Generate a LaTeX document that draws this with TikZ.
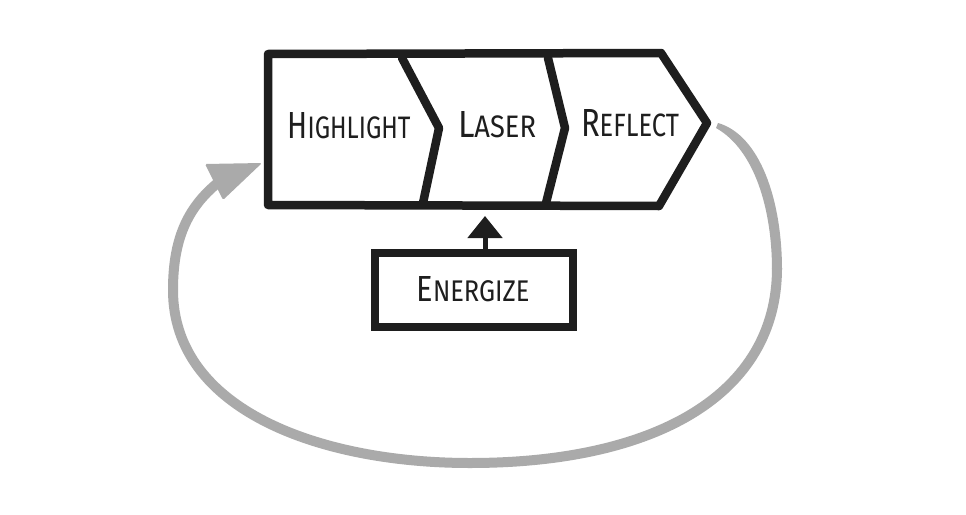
\documentclass[tikz,border=0pt]{standalone}
\usepackage{fontspec}
\setmainfont{Fira Sans}
\usepackage{graphicx}
\usetikzlibrary{arrows.meta}
\definecolor{ink}{RGB}{30,30,30}
\definecolor{loopgray}{RGB}{170,170,170}
\newcommand{\capbig}[1]{{\fontsize{34}{34}\selectfont #1}}
\newcommand{\capsml}[1]{{\fontsize{28}{28}\selectfont #1}}
\newcommand{\hand}[3]{\resizebox{#1}{#2}{#3}}
\tikzset{
  thick ink/.style={draw=ink, line width=8.5pt, line join=round, line cap=round},
  label text/.style={inner sep=0pt, text=ink},
  loop line/.style={draw=loopgray, line width=10pt},
}
\begin{document}
\begin{tikzpicture}[x=1pt,y=-1pt]
\useasboundingbox (0,0) rectangle (966,514);
\fill[white] (0,0) rectangle (966,514);
% chevron process
\draw[thick ink] (268,54) -- (661,53) -- (707,123) -- (659,206) -- (268,205) -- cycle;
\draw[thick ink] (402,58) -- (439,128) -- (423,203);
\draw[thick ink] (548,58) -- (565,128) -- (546,203);
\node[label text] (highlight) at (349,126) {\hand{123pt}{26pt}{\capbig{H}\capsml{IGHLIGHT}}};
\node[label text] (laser) at (497,125) {\hand{78pt}{26pt}{\capbig{L}\capsml{ASER}}};
\node[label text] (reflect) at (630,123) {\hand{98pt}{27pt}{\capbig{R}\capsml{EFLECT}}};
% energize box
\node[draw=ink, line width=7.5pt, minimum width=198pt, minimum height=74pt, inner sep=0pt] (energize) at (474,290) {};
\node[label text] (energizetext) at (473,289) {\hand{113pt}{25pt}{\capbig{E}\capsml{NERGIZE}}};
\coordinate (laserbottom) at (485,216);
\draw[ink, line width=5pt, -{Triangle[width=34pt,length=22pt]}] ([xshift=11pt]energize.north) -- (laserbottom);
% gray loop
\coordinate (loopstart) at (718,125);
\coordinate (loopend) at (220,181);
\fill[loopgray] (718,123) .. controls (760,135) and (782,200) .. (782,270) -- (772,270) .. controls (772,210) and (755,150) .. (716,128) -- cycle;
\draw[loop line] (777,268) .. controls (777,395) and (655,463) .. (470,463) .. controls (320,463) and (173,410) .. (173,290) .. controls (173,235) and (190,205) .. (loopend);
\fill[loopgray, rounded corners=1.5pt] (205,164) -- (262,163) -- (223,200) -- cycle;
\end{tikzpicture}
\end{document}
